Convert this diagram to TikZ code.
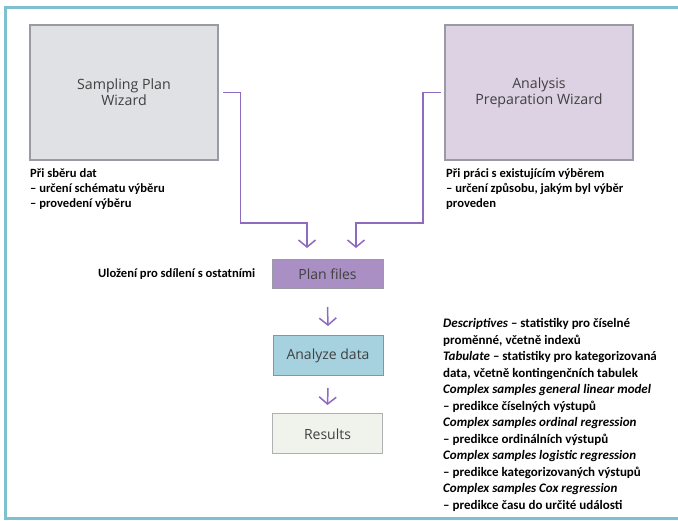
\documentclass[tikz,border=0pt]{standalone}
\usepackage{fontspec}
\setmainfont{Carlito}
\newfontfamily\boxfont{Open Sans}
\usetikzlibrary{arrows.meta}
\definecolor{framec}{HTML}{7FC0D0}
\definecolor{sampfill}{HTML}{E0E1E5}
\definecolor{analfill}{HTML}{DDD2E3}
\definecolor{planfill}{HTML}{A98FC4}
\definecolor{anafill}{HTML}{A6D2DF}
\definecolor{resfill}{HTML}{F0F3EB}
\definecolor{connc}{HTML}{8E6BBF}
\definecolor{boxtext}{HTML}{404040}
\definecolor{bordc}{HTML}{9A9AA5}
\definecolor{anabord}{HTML}{7A9AA8}
\definecolor{resbord}{HTML}{B0B0B0}
\tikzset{
  bigbox/.style={draw=bordc, line width=1.3pt, minimum width=188pt, minimum height=135pt,
    align=center, font=\boxfont\fontsize{14.2}{16}\selectfont, text=boxtext, inner sep=0pt, outer sep=0pt},
  smallbox/.style={draw=bordc, line width=1pt, minimum width=110pt, minimum height=40pt,
    align=center, font=\boxfont\fontsize{14}{16}\selectfont, text=boxtext, inner sep=0pt, outer sep=0pt},
  conn/.style={draw=connc, line width=1.5pt, -{Straight Barb[length=7pt,width=17pt]}},
  lbl/.style={font=\fontsize{12.6}{15}\selectfont\bfseries, align=left, inner sep=0pt, text=black},
  listlbl/.style={font=\fontsize{13}{16.5}\selectfont\bfseries, align=left, inner sep=0pt, text=black}
}
\begin{document}
\begin{tikzpicture}[x=1pt,y=1pt]
\useasboundingbox (0,0) rectangle (678,520);
\fill[white] (0,0) rectangle (678,520);
% frame
\draw[framec, line width=3pt] (678,512) -- (5,512) -- (5,2) -- (678,2);
% boxes
\node[bigbox, fill=sampfill] (samp) at (124,427.5) {Sampling Plan\\Wizard};
\node[bigbox, fill=analfill] (anal) at (539,427.5) {Analysis\\Preparation Wizard};
\node[smallbox, fill=planfill, minimum width=111pt, minimum height=29pt] (plan) at (327.5,245.5) {Plan files};
\node[smallbox, fill=anafill, draw=anabord] (ana) at (328,164) {Analyze data};
\node[smallbox, fill=resfill, draw=resbord] (res) at (327.5,86) {Results};
% arrow ends
\coordinate (a1) at (307,272);
\coordinate (a2) at (356,272);
\coordinate (b1) at (240.5,297);
\coordinate (b2) at (423,297);
% connectors
\draw[conn] ([xshift=5pt]samp.east) -| (b1) -| (a1);
\draw[conn] ([xshift=-4pt]anal.west) -| (b2) -| (a2);
\draw[conn] ([yshift=-18pt]plan.south) -- ([yshift=10pt]ana.north);
\draw[conn] ([yshift=-12pt]ana.south) -- ([yshift=9pt]res.north);
% texts
\node[lbl, anchor=north west] (t1) at (30,352) {Při sběru dat\\– určení schématu výběru\\– provedení výběru};
\node[lbl, anchor=north west] (t2) at (446,352) {Při práci s existujícím výběrem\\– určení způsobu, jakým byl výběr\\proveden};
\node[lbl, anchor=west] (t3) at (98,245.5) {Uložení pro sdílení s ostatními};
\node[listlbl, anchor=north west] (t4) at (443,201.5) {\textit{Descriptives} – statistiky pro číselné\\proměnné, včetně indexů\\\textit{Tabulate} – statistiky pro kategorizovaná\\data, včetně kontingenčních tabulek\\\textit{Complex samples general linear model}\\– predikce číselných výstupů\\\textit{Complex samples ordinal regression}\\– predikce ordinálních výstupů\\\textit{Complex samples logistic regression}\\– predikce kategorizovaných výstupů\\\textit{Complex samples Cox regression}\\– predikce času do určité události};
\end{tikzpicture}
\end{document}
